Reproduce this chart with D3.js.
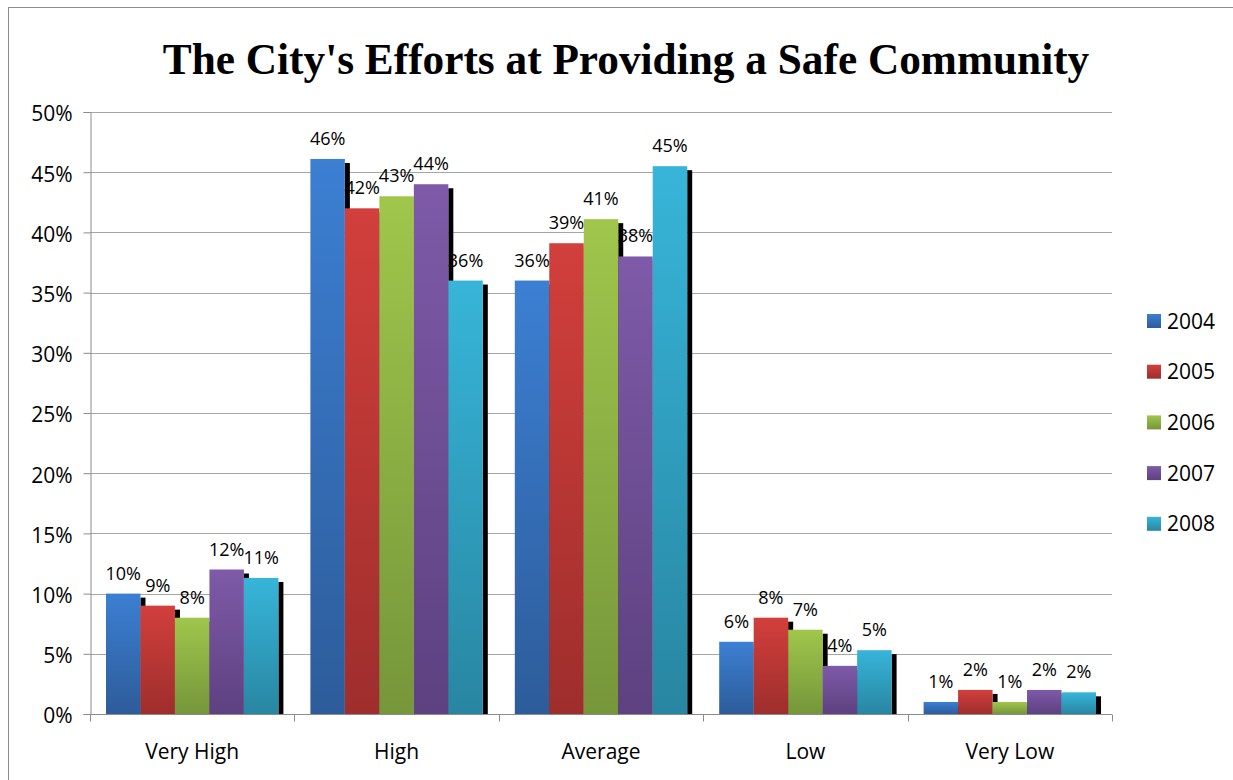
<!DOCTYPE html>
<html><head><meta charset="utf-8">
<script src="https://cdn.jsdelivr.net/npm/d3@7"></script>
<style>body{margin:0;background:#fff;} svg{display:block;}</style>
</head><body>
<svg id="chart" width="1233" height="780"></svg>
<script>
const categories = ["Very High", "High", "Average", "Low", "Very Low"];
const years = ["2004", "2005", "2006", "2007", "2008"];
const v2004 = [10, 46.1, 36, 6, 1];
const v2005 = [9, 42, 39.1, 8, 2];
const v2006 = [8, 43, 41.1, 7, 1];
const v2007 = [12, 44, 38, 4, 2];
const v2008 = [11.3, 36, 45.5, 5.3, 1.8];
const labels2004 = ["10%", "46%", "36%", "6%", "1%"];
const labels2005 = ["9%", "42%", "39%", "8%", "2%"];
const labels2006 = ["8%", "43%", "41%", "7%", "1%"];
const labels2007 = ["12%", "44%", "38%", "4%", "2%"];
const labels2008 = ["11%", "36%", "45%", "5%", "2%"];
const yTicks = [0, 5, 10, 15, 20, 25, 30, 35, 40, 45, 50];
const colorsTop = ["#3c7fd3", "#d23f3c", "#a0c64c", "#7e5aa8", "#37b5d9"];
const colorsBot = ["#2d5c9a", "#9e2e2c", "#76963a", "#5d4180", "#2886a2"];

const series = [v2004, v2005, v2006, v2007, v2008];
const seriesLabels = [labels2004, labels2005, labels2006, labels2007, labels2008];

const FONT = "Open Sans, DejaVu Sans, sans-serif";
const svg = d3.select("#chart");
const W = 1233, H = 780;
const m = {left: 90, right: 1112, top: 112, bottom: 714};

// outer border
svg.append("rect").attr("x", 8.5).attr("y", 7.5).attr("width", W + 10).attr("height", H + 10)
  .attr("fill", "none").attr("stroke", "#8c8c8c").attr("stroke-width", 1);

const defs = svg.append("defs");
years.forEach((y, i) => {
  const g = defs.append("linearGradient").attr("id", "g" + i)
    .attr("x1", 0).attr("y1", 0).attr("x2", 0).attr("y2", 1);
  g.append("stop").attr("offset", "0%").attr("stop-color", colorsTop[i]);
  g.append("stop").attr("offset", "100%").attr("stop-color", colorsBot[i]);
});

const yScale = d3.scaleLinear().domain([0, 50]).range([m.bottom, m.top]);
const x0 = d3.scaleBand().domain(categories).range([m.left, m.right]).paddingInner(0).paddingOuter(0);
const x1 = d3.scaleBand().domain(years).range([16, x0.bandwidth() - 16]).padding(0);

// title
svg.append("text").attr("x", 626).attr("y", 74).attr("text-anchor", "middle")
  .attr("font-family", "Liberation Serif, Times New Roman, serif").attr("font-weight", "bold")
  .attr("font-size", 43.3).attr("fill", "#000").text("The City's Efforts at Providing a Safe Community");

// gridlines
svg.append("g").selectAll("line").data(yTicks.filter(d => d > 0)).join("line")
  .attr("x1", m.left).attr("x2", m.right)
  .attr("y1", d => Math.round(yScale(d)) + 0.5).attr("y2", d => Math.round(yScale(d)) + 0.5)
  .attr("stroke", "#a6a6a6").attr("stroke-width", 1);

// y axis
const yAxis = d3.axisLeft(yScale).tickValues(yTicks).tickFormat(d => d + "%").tickSize(7).tickPadding(11);
const yg = svg.append("g").attr("transform", `translate(${m.left + 0.5},0)`).call(yAxis);
yg.select(".domain").attr("stroke", "#8c8c8c");
yg.selectAll(".tick line").attr("stroke", "#8c8c8c");
yg.selectAll(".tick text").attr("font-family", FONT).attr("font-size", 21).attr("fill", "#000").attr("dy", "0.42em");

// bars
const groups = svg.append("g").selectAll("g").data(categories).join("g")
  .attr("transform", d => `translate(${x0(d)},0)`);

// shadows first
series.forEach((vals, si) => {
  groups.append("rect")
    .attr("x", (d, ci) => x1(years[si]) + x1.bandwidth())
    .attr("y", (d, ci) => yScale(vals[ci]) + 4)
    .attr("width", 5)
    .attr("height", (d, ci) => m.bottom - yScale(vals[ci]) - 4)
    .attr("fill", "#000");
});
series.forEach((vals, si) => {
  groups.append("rect")
    .attr("x", x1(years[si]))
    .attr("y", (d, ci) => yScale(vals[ci]))
    .attr("width", x1.bandwidth())
    .attr("height", (d, ci) => m.bottom - yScale(vals[ci]))
    .attr("fill", `url(#g${si})`);
});
series.forEach((vals, si) => {
  groups.append("text")
    .attr("x", x1(years[si]) + x1.bandwidth() / 2)
    .attr("y", (d, ci) => yScale(vals[ci]) - 14)
    .attr("text-anchor", "middle")
    .attr("font-family", FONT).attr("font-size", 18).attr("fill", "#000")
    .text((d, ci) => seriesLabels[si][ci]);
});

// x axis
const xg = svg.append("g").attr("transform", `translate(0,${m.bottom + 0.5})`);
xg.append("line").attr("x1", m.left).attr("x2", m.right).attr("stroke", "#8c8c8c");
const bounds = categories.map(c => x0(c)).concat([m.right]);
xg.selectAll("line.tk").data(bounds).join("line").attr("class", "tk")
  .attr("x1", d => Math.round(d) + 0.5).attr("x2", d => Math.round(d) + 0.5)
  .attr("y1", 0).attr("y2", 7).attr("stroke", "#8c8c8c");
xg.selectAll("text").data(categories).join("text")
  .attr("x", d => x0(d) + x0.bandwidth() / 2).attr("y", 44.5)
  .attr("text-anchor", "middle")
  .attr("font-family", FONT).attr("font-size", 21).attr("fill", "#000")
  .text(d => d);

// legend
const lg = svg.append("g").selectAll("g").data(years).join("g")
  .attr("transform", (d, i) => `translate(1147,${321 + i * 50.7})`);
lg.append("rect").attr("x", 0).attr("y", -7).attr("width", 14).attr("height", 14)
  .attr("fill", (d, i) => `url(#g${i})`);
lg.append("text").attr("x", 20).attr("y", 7.5)
  .attr("font-family", FONT).attr("font-size", 21).attr("fill", "#000")
  .text(d => d);
</script>
</body></html>
